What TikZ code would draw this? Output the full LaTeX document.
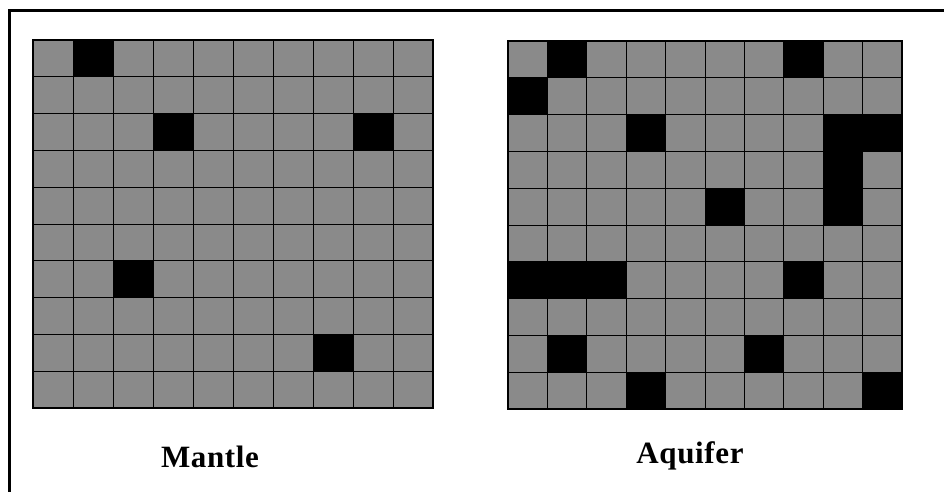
\documentclass[tikz,border=0pt]{standalone}
\usepackage{fontspec}
\setmainfont{Liberation Serif}
\newfontfamily\labfont[LetterSpace=2]{Liberation Serif}
\definecolor{cellgray}{HTML}{8A8A8A}
\tikzset{
  cellbg/.style={fill=cellgray},
  blackcell/.style={fill=black},
  gridline/.style={draw=black, line width=1pt},
  gridframe/.style={draw=black, line width=2.6pt},
  outerframe/.style={draw=black, line width=2.6pt},
  label/.style={font=\labfont\bfseries\fontsize{31}{36}\selectfont, inner sep=0pt, anchor=base}
}
\newcommand{\cellgrid}[1]{%
  \fill[cellbg] (0,0) rectangle (10,10);
  \foreach \i in {1,...,9} {
    \draw[gridline] (\i,0) -- (\i,10);
    \draw[gridline] (0,\i) -- (10,\i);
  }
  \foreach \c/\r in {#1} \fill[blackcell] (\c,\r) rectangle ++(1,1);
  \draw[gridframe] (0,0) rectangle (10,10);
}
\begin{document}
\begin{tikzpicture}[x=1pt,y=-1pt]
\useasboundingbox (0,0) rectangle (944,491);
\clip (0,0) rectangle (944,491);
\fill[white] (0,0) rectangle (944,491);
\draw[outerframe] (9.5,10.5) rectangle (980,540);
\begin{scope}[shift={(33,40)}, xscale=40, yscale=36.8]
  \cellgrid{1/0,3/2,8/2,2/6,7/8}
\end{scope}
\begin{scope}[shift={(508,41)}, xscale=39.4, yscale=36.8]
  \cellgrid{1/0,7/0,0/1,3/2,8/2,9/2,8/3,5/4,8/4,0/6,1/6,2/6,7/6,1/8,6/8,3/9,9/9}
\end{scope}
\node[label] (mantle) at (210,467) {Mantle};
\node[label] (aquifer) at (690,463) {Aquifer};
\end{tikzpicture}
\end{document}
